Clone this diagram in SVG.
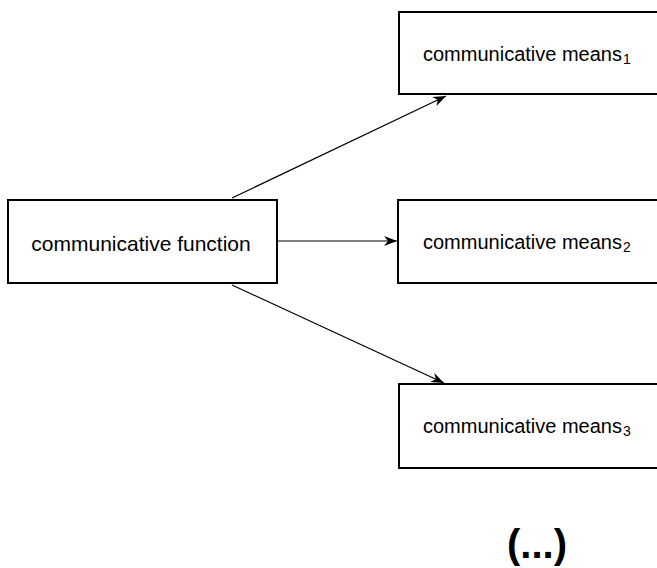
<svg xmlns="http://www.w3.org/2000/svg" width="657" height="568" viewBox="0 0 657 568">
<defs>
<marker id="ah" markerWidth="14" markerHeight="10" refX="13" refY="5" orient="auto" markerUnits="userSpaceOnUse">
<path d="M0,0 L13,5 L0,10 L4,5 z" fill="#000"/>
</marker>
<style>
.box{fill:#fff;stroke:#000;stroke-width:2}
.t{font-family:"Liberation Sans",Arial,sans-serif;font-size:20px;fill:#000}
.s{font-size:14px}
.c{stroke:#000;stroke-width:1.2;fill:none;marker-end:url(#ah)}
</style>
</defs>
<g id="connectors">
<line class="c" x1="232" y1="198" x2="446" y2="96"/>
<line class="c" x1="278" y1="241" x2="397" y2="241"/>
<line class="c" x1="232" y1="285" x2="444" y2="383"/>
</g>
<g id="function">
<rect class="box" x="8" y="200" width="269" height="83"/>
<text class="t" x="141" y="251" text-anchor="middle" style="font-size:21px">communicative function</text>
</g>
<g id="means1">
<rect class="box" x="399" y="12" width="270" height="82"/>
<text class="t" x="423" y="61">communicative means<tspan class="s" dx="1" dy="3">1</tspan></text>
</g>
<g id="means2">
<rect class="box" x="398" y="200" width="270" height="83"/>
<text class="t" x="423" y="249">communicative means<tspan class="s" dx="1" dy="3">2</tspan></text>
</g>
<g id="means3">
<rect class="box" x="399" y="384" width="270" height="84"/>
<text class="t" x="423" y="433">communicative means<tspan class="s" dx="1" dy="3">3</tspan></text>
</g>
<text class="t" x="537" y="558" text-anchor="middle" style="font-size:40px;font-weight:bold">(...)</text>
</svg>
